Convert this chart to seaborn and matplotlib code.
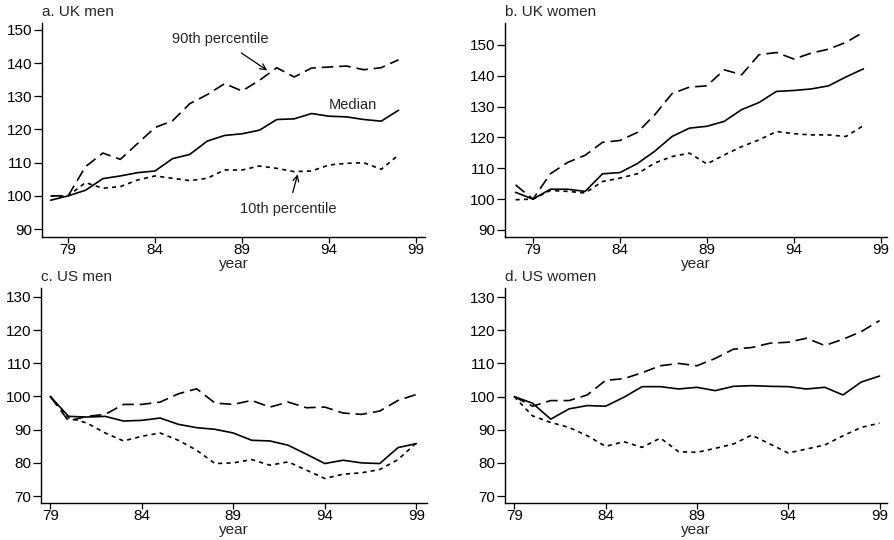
import matplotlib
matplotlib.use('Agg')
import matplotlib.pyplot as plt
import numpy as np
import pandas as pd
import seaborn as sns

sns.set_theme(style='ticks')
plt.rcParams['font.family'] = ['Liberation Sans', 'DejaVu Sans']

UK_YEARS = list(range(78, 99))
US_YEARS = list(range(79, 100))

UK_MEN_P90 = [100, 100, 108.8, 112.9, 111, 115.8, 120.6, 122.6, 127.8, 130.5, 133.8,
              131.6, 134.8, 138.6, 135.8, 138.5, 138.8, 139.1, 138, 138.6, 141]
UK_MEN_MED = [98.7, 100, 101.7, 105.2, 106, 107, 107.5, 111.2, 112.5, 116.5, 118.2,
              118.7, 119.8, 123, 123.2, 124.8, 124, 123.8, 123, 122.5, 125.8]
UK_MEN_P10 = [100, 100, 104, 102.3, 102.8, 104.8, 106, 105.3, 104.6, 105.3, 107.8,
              107.8, 109, 108.3, 107.3, 107.5, 109.3, 109.8, 110, 108, 112.3]

UK_WOMEN_P90 = [104.6, 100, 108.2, 111.9, 114.2, 118.4, 119, 121.6, 127.3, 134.2, 136.3,
                136.7, 141.9, 140.3, 146.8, 147.5, 145.4, 147.3, 148.6, 150.8, 154.1]
UK_WOMEN_MED = [102.2, 100, 103.2, 103.2, 102.5, 108.2, 108.6, 111.5, 115.5, 120.3, 123,
                123.6, 125.2, 129, 131.3, 134.9, 135.2, 135.7, 136.7, 139.6, 142.2]
UK_WOMEN_P10 = [99.8, 100, 102.8, 102.5, 102, 105.7, 106.8, 108.2, 111.7, 113.8, 114.9,
                111.4, 114.3, 117, 119.2, 121.9, 121.2, 120.8, 120.8, 120.3, 123.8]

US_MEN_P90 = [100, 92.6, 94, 94.6, 97.6, 97.6, 98.3, 100.8, 102.3, 98, 97.6,
              98.8, 96.8, 98.3, 96.6, 96.8, 95, 94.6, 95.6, 98.8, 100.6]
US_MEN_MED = [100, 94, 93.8, 94, 92.6, 92.8, 93.5, 91.6, 90.6, 90.1, 89,
              86.8, 86.6, 85.3, 82.6, 79.8, 80.8, 80, 79.8, 84.6, 85.8]
US_MEN_P10 = [100, 93.6, 92, 89, 86.6, 88, 89, 86.8, 83.8, 79.8, 80,
              81, 79.3, 80.3, 77.8, 75.3, 76.6, 77, 78, 81, 86]

US_WOMEN_P90 = [100, 97.1, 98.8, 98.8, 100.5, 104.9, 105.4, 107.2, 109.3, 110, 109.3,
                111.5, 114.3, 114.8, 116.1, 116.4, 117.6, 115.4, 117.3, 119.6, 122.9]
US_WOMEN_MED = [100, 98, 93.2, 96.3, 97.3, 97.1, 99.8, 103, 103, 102.3, 102.8,
                101.8, 103.1, 103.3, 103.1, 103, 102.3, 102.8, 100.5, 104.4, 106.2]
US_WOMEN_P10 = [100, 94.2, 92.2, 90.7, 88.2, 85, 86.4, 84.7, 87.5, 83.4, 83.2,
                84.4, 85.7, 88.4, 85.7, 83, 84.2, 85.4, 88.2, 90.7, 92]

X_TICKS = [79, 84, 89, 94, 99]
UK_Y_TICKS = [90, 100, 110, 120, 130, 140, 150]
US_Y_TICKS = [70, 80, 90, 100, 110, 120, 130]

STYLES = {'p90': (0, (7, 3.5)), 'med': '-', 'p10': (0, (2.5, 2.5))}


def draw_panel(ax, years, p90, med, p10, title, yticks, xlim, ylim):
    for key, vals in (('p90', p90), ('med', med), ('p10', p10)):
        sns.lineplot(x=years, y=vals, ax=ax, color='black', linewidth=1.2,
                     linestyle=STYLES[key])
    ax.set_xlim(*xlim)
    ax.set_ylim(*ylim)
    ax.set_xticks(X_TICKS)
    ax.set_yticks(yticks)
    ax.set_xlabel('year', fontsize=11, labelpad=0)
    ax.set_ylabel('')
    ax.tick_params(axis='y', length=5.5, pad=1.5)
    ax.tick_params(axis='x', length=4, pad=0.5)
    ax.tick_params(labelsize=11, width=0.9, colors='black')
    for side in ('top', 'right'):
        ax.spines[side].set_visible(False)
    for side in ('left', 'bottom'):
        ax.spines[side].set_linewidth(1.0)
        ax.spines[side].set_color('black')
    ax.text(0.0, 1.02, title, transform=ax.transAxes, fontsize=11,
            ha='left', va='bottom')


fig = plt.figure(figsize=(8.94, 5.4), dpi=100)
ax_a = fig.add_axes([0.047, 0.561, 0.428, 0.396])
ax_b = fig.add_axes([0.565, 0.561, 0.427, 0.396])
ax_c = fig.add_axes([0.046, 0.069, 0.432, 0.398])
ax_d = fig.add_axes([0.565, 0.069, 0.427, 0.398])

draw_panel(ax_a, UK_YEARS, UK_MEN_P90, UK_MEN_MED, UK_MEN_P10, 'a. UK men',
           UK_Y_TICKS, (77.5, 99.5), (87.6, 152))
draw_panel(ax_b, UK_YEARS, UK_WOMEN_P90, UK_WOMEN_MED, UK_WOMEN_P10, 'b. UK women',
           UK_Y_TICKS, (77.4, 99.35), (87.7, 157))
draw_panel(ax_c, US_YEARS, US_MEN_P90, US_MEN_MED, US_MEN_P10, 'c. US men',
           US_Y_TICKS, (78.5, 99.6), (68, 132.7))
draw_panel(ax_d, US_YEARS, US_WOMEN_P90, US_WOMEN_MED, US_WOMEN_P10, 'd. US women',
           US_Y_TICKS, (78.5, 99.4), (68, 132.8))

# annotations on panel a
ax_a.annotate('90th percentile', xy=(90.45, 137.8), xytext=(87.75, 147.3),
              fontsize=10.5, ha='center', va='center',
              arrowprops=dict(arrowstyle='->', color='black', lw=0.9,
                              shrinkA=5, shrinkB=0))
ax_a.annotate('10th percentile', xy=(92.2, 106.5), xytext=(91.65, 95.9),
              fontsize=10.5, ha='center', va='center',
              arrowprops=dict(arrowstyle='->', color='black', lw=0.9,
                              shrinkA=5, shrinkB=0))
ax_a.text(95.4, 127.5, 'Median', fontsize=10.5, ha='center', va='center')

fig.savefig('out.png', dpi=100)
